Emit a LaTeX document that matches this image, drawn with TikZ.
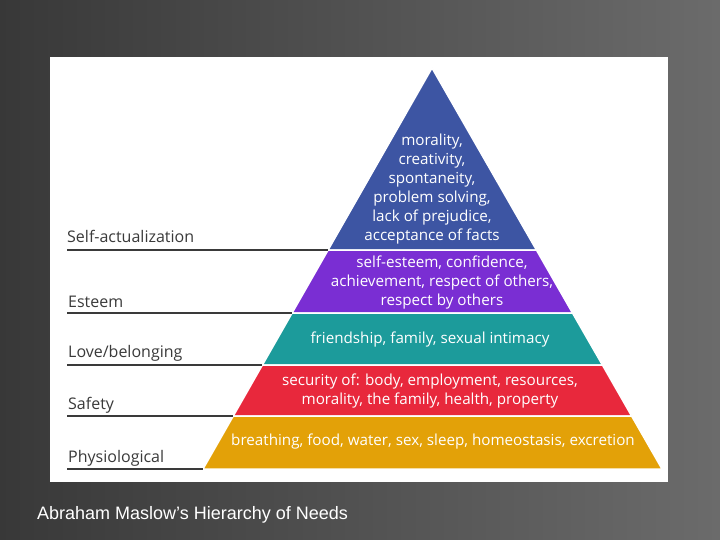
\documentclass[tikz,border=0pt]{standalone}
\usepackage{fontspec}
\setmainfont{Open Sans}
\newfontfamily\capfont{Liberation Sans}
\usetikzlibrary{positioning}
\definecolor{lvlblue}{HTML}{3D55A3}
\definecolor{lvlpurple}{HTML}{7A2ED3}
\definecolor{lvlteal}{HTML}{1C9B9B}
\definecolor{lvlred}{HTML}{E8283C}
\definecolor{lvlorange}{HTML}{E3A108}
\definecolor{lvlline}{HTML}{3A3A3A}
\begin{document}
\begin{tikzpicture}[x=1pt,y=-1pt,
  band/.style={draw=white,line width=1.5pt},
  inner/.style={text=white,font=\fontsize{15.2}{19}\selectfont,align=center,inner sep=0pt},
  level/.style={anchor=base west,text=lvlline,font=\fontsize{16}{18}\selectfont,inner sep=0pt},
  sep/.style={draw=lvlline,line width=1.6pt}]
  % background
  \shade[left color=black!78,right color=black!58] (0,0) rectangle (720,540);
  \useasboundingbox (0,0) rectangle (720,540);
  \fill[white] (50,57) rectangle (668,482);

  % pyramid
  \coordinate (apex) at (432,68);
  \coordinate (l1) at (328.1,250); \coordinate (r1) at (536.4,250);
  \coordinate (l2) at (292.1,313); \coordinate (r2) at (572.5,313);
  \coordinate (l3) at (262.4,365); \coordinate (r3) at (602.4,365);
  \coordinate (l4) at (233.3,416); \coordinate (r4) at (631.6,416);
  \coordinate (l5) at (203,469);   \coordinate (r5) at (662,469);

  \filldraw[band,fill=lvlblue] (apex) -- (r1) -- (l1) -- cycle;
  \filldraw[band,fill=lvlpurple] (l1) -- (r1) -- (r2) -- (l2) -- cycle;
  \filldraw[band,fill=lvlteal] (l2) -- (r2) -- (r3) -- (l3) -- cycle;
  \filldraw[band,fill=lvlred] (l3) -- (r3) -- (r4) -- (l4) -- cycle;
  \filldraw[band,fill=lvlorange] (l4) -- (r4) -- (r5) -- (l5) -- cycle;

  % texts inside
  \node[inner] (selfact) at (432,189) {morality,\\creativity,\\spontaneity,\\problem solving,\\lack of prejudice,\\acceptance of facts};
  \node[inner] (esteem) at (442,283) {self-esteem, confidence,\\achievement, respect of others,\\respect by others};
  \node[inner] (love) at (430,340) {friendship, family, sexual intimacy};
  \node[inner] (safety) at (430,391) {security of: body, employment, resources,\\morality, the family, health, property};
  \node[inner] (physio) at (433,442) {breathing, food, water, sex, sleep, homeostasis, excretion};

  % level labels
  \coordinate (s1) at (67,250);
  \coordinate (s2) at (67,313);
  \coordinate (s3) at (67,365);
  \coordinate (s4) at (67,416);
  \coordinate (s5) at (67,469);
  \node[level] (lself) at (67,243) {Self-actualization};
  \node[level] (lesteem) at (68,307) {Esteem};
  \node[level] (llove) at (68,357) {Love/belonging};
  \node[level] (lsafety) at (68,409) {Safety};
  \node[level] (lphysio) at (68,462) {Physiological};
  \draw[sep] (s1) -- (l1);
  \draw[sep] (s2) -- (l2);
  \draw[sep] (s3) -- (l3);
  \draw[sep] (s4) -- (l4);
  \draw[sep] (s5) -- (l5);

  % caption
  \node[anchor=base west,text=white,inner sep=0pt,font=\capfont\fontsize{18}{20}\selectfont] (caption) at (37,519) {Abraham Maslow’s Hierarchy of Needs};
\end{tikzpicture}
\end{document}
